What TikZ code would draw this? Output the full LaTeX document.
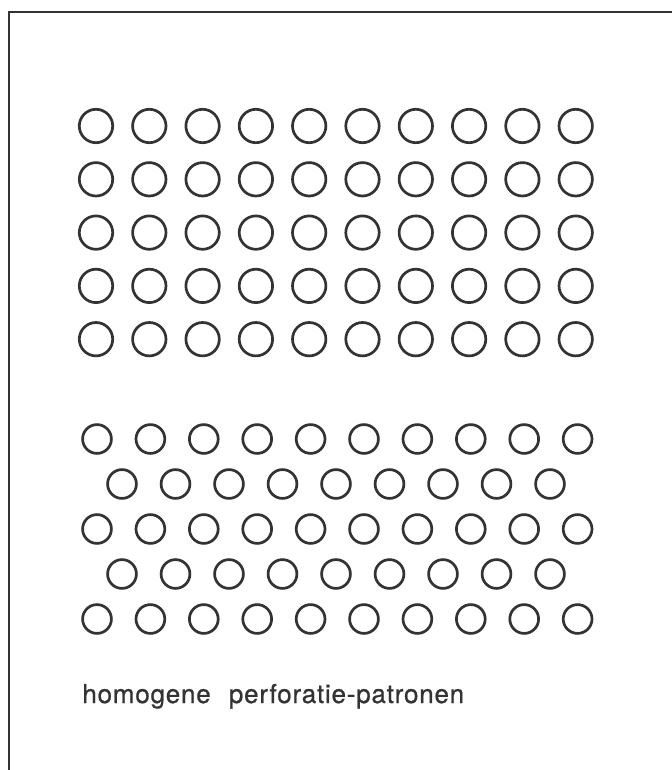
\documentclass[tikz,border=0pt]{standalone}
\usepackage{fontspec}
\setmainfont{TeX Gyre Heros}[FakeBold=0.8,LetterSpace=3]
\begin{document}
\begin{tikzpicture}[x=0.5pt,y=-0.5pt,
  ink/.style={draw=black!80,line width=1.35pt},
  frameline/.style={draw=black!80,line width=1.2pt},
  caption/.style={anchor=base west,inner sep=0pt,text=black!80,font=\fontsize{13pt}{15pt}\selectfont}]
\useasboundingbox (0,0) rectangle (672,770);
% frame (open at right and bottom)
\draw[frameline] (8.7,770) -- (8.7,12.2) -- (672,12.2);
% top grid: square pattern
\foreach \j in {0,...,4}{
  \foreach \i in {0,...,9}{
    \draw[ink] ({96+53.3*\i},{126+53.3*\j}) circle[radius=16.7];
  }
}
% bottom grid: staggered pattern
\foreach \j in {0,2,4}{
  \foreach \i in {0,...,9}{
    \draw[ink] ({97+53.4*\i},{439+45*\j}) circle[radius=14.4];
  }
}
\foreach \j in {1,3}{
  \foreach \i in {0,...,8}{
    \draw[ink] ({122+53.5*\i},{439+45*\j}) circle[radius=14.4];
  }
}
\node[caption] (cap) at (82,703) {homogene\hspace{0.7em}perforatie-patronen};
\end{tikzpicture}
\end{document}
